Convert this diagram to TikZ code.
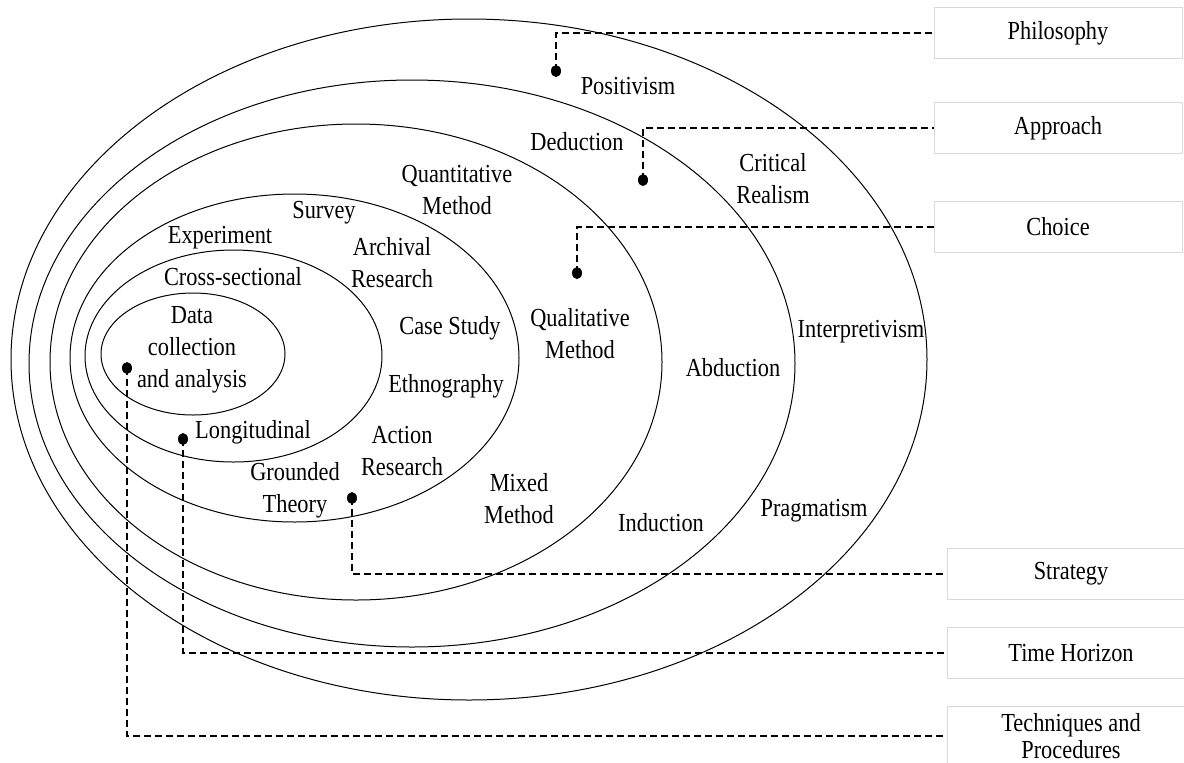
\documentclass[tikz,border=0pt]{standalone}
\usepackage{fontspec}
\setmainfont{Liberation Serif}[FakeStretch=0.86]
\usetikzlibrary{shapes.geometric}
\begin{document}
\begin{tikzpicture}[x=0.5pt, y=-0.5pt,
  ring/.style={draw, ellipse, line width=0.5pt, inner sep=0pt, outer sep=0pt},
  lbl/.style={inner sep=0pt, align=center, font=\fontsize{13}{16}\selectfont},
  layerbox/.style={draw=black!15, line width=0.5pt, minimum width=124pt,
    minimum height=25.5pt, inner sep=0pt, align=center,
    font=\fontsize{13}{16}\selectfont},
  pin/.style={ellipse, fill=black, inner sep=0pt, minimum width=5pt, minimum height=6pt},
  conn/.style={line width=0.8pt, dash pattern=on 3.5pt off 2pt}]
\useasboundingbox (0,0) rectangle (1184,762);

% nested layers of the onion
\node[ring, minimum width=458pt, minimum height=340.5pt] (e1) at (469,359.5) {};
\node[ring, minimum width=383pt, minimum height=283.5pt] (e2) at (412,363.5) {};
\node[ring, minimum width=306pt, minimum height=238pt] (e3) at (356,362) {};
\node[ring, minimum width=224.5pt, minimum height=164pt] (e4) at (294.5,358) {};
\node[ring, minimum width=148.5pt, minimum height=106pt] (e5) at (233.5,356) {};
\node[ring, minimum width=92pt, minimum height=61pt] (e6) at (193,354) {};

% labels inside the layers
\node[lbl] (positivism) at (628,86) {Positivism};
\node[lbl] (critical) at (773,179) {Critical\\Realism};
\node[lbl] (interp) at (861,332) {Interpretivism};
\node[lbl] (pragmatism) at (814,511) {Pragmatism};
\node[lbl] (deduction) at (577,142) {Deduction};
\node[lbl] (abduction) at (733,368) {Abduction};
\node[lbl] (induction) at (661,523) {Induction};
\node[lbl] (quant) at (457,190) {Quantitative\\Method};
\node[lbl] (qual) at (580,334) {Qualitative\\Method};
\node[lbl] (mixed) at (519,499) {Mixed\\Method};
\node[lbl] (survey) at (324,213) {Survey};
\node[lbl] (experiment) at (220,238) {Experiment};
\node[lbl] (archival) at (392,263) {Archival\\Research};
\node[lbl] (casestudy) at (450,328) {Case Study};
\node[lbl] (ethno) at (446,386) {Ethnography};
\node[lbl] (action) at (402,451) {Action\\Research};
\node[lbl] (grounded) at (295,490) {Grounded\\Theory};
\node[lbl] (cross) at (233,277) {Cross-sectional};
\node[lbl] (longit) at (253,432) {Longitudinal};
\node[lbl] (data) at (192,350) {Data\\collection\\and analysis};

% layer names on the right
\node[layerbox] (philosophy) at (1058,33) {Philosophy};
\node[layerbox] (approach) at (1058,128) {Approach};
\node[layerbox] (choice) at (1058,227) {Choice};
\node[layerbox] (strategy) at (1071,574) {Strategy};
\node[layerbox] (timeh) at (1071,653) {Time Horizon};
\node[layerbox, minimum height=30pt, font=\fontsize{13}{13.5}\selectfont] (tech) at (1071,736) {Techniques and\\Procedures};

% pins marking each layer
\node[pin] (pP) at (556,71) {};
\node[pin] (pA) at (643,180) {};
\node[pin] (pC) at (577,273) {};
\node[pin] (pS) at (352,498) {};
\node[pin] (pT) at (183,439) {};
\node[pin] (pD) at (127,368) {};

% leader lines
\draw[conn] (pP.center) |- (philosophy.west);
\draw[conn] (pA.center) |- (approach.west);
\draw[conn] (pC.center) |- (choice.west);
\draw[conn] (pS.center) |- (strategy.west);
\draw[conn] (pT.center) |- (timeh.west);
\draw[conn] (pD.center) |- (tech.west);
\end{tikzpicture}
\end{document}
